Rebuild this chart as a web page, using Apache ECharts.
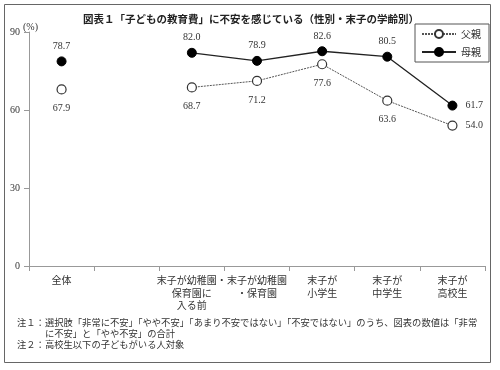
<!DOCTYPE html>
<html><head><meta charset="utf-8">
<script src="https://cdn.jsdelivr.net/npm/echarts@6/dist/echarts.min.js"></script>
<style>html,body{margin:0;padding:0;background:#fff}#c{width:500px;height:370px}</style>
</head><body><div id="c"></div>
<script>
const categories = ['全体', '', '末子が幼稚園・\n保育園に\n入る前', '末子が幼稚園\n・保育園', '末子が\n小学生', '末子が\n中学生', '末子が\n高校生'];
const fatherValues = [67.9, null, 68.7, 71.2, 77.6, 63.6, 54.0];
const motherValues = [78.7, null, 82.0, 78.9, 82.6, 80.5, 61.7];
const yTicks = [0, 30, 60, 90];
const unitText = '(%)';
const titleText = '図表１「子どもの教育費」に不安を感じている（性別・末子の学齢別）';
const notes = [
  '注１：選択肢「非常に不安」「やや不安」「あまり不安ではない」「不安ではない」のうち、図表の数値は「非常',
  '　　　に不安」と「やや不安」の合計',
  '注２：高校生以下の子どもがいる人対象'
];
const serif = '"Liberation Serif","DejaVu Serif","Noto Sans CJK JP",serif';
const jp = '"Noto Sans CJK JP",sans-serif';
const chart = echarts.init(document.getElementById('c'));
const lastIdx = categories.length - 1;
function labelFor(pos, dist) {
  return {
    show: true, position: pos, distance: dist, color: '#333', fontSize: 10, fontFamily: serif,
    formatter: p => p.value == null ? '' : p.value.toFixed(1)
  };
}
function mkData(vals) {
  return vals.map((v, i) => i === lastIdx ? { value: v, label: { position: 'right', distance: 8 } } : v);
}
chart.setOption({
  animation: false,
  title: {
    text: titleText, left: 246, top: 9, textAlign: 'center',
    textStyle: { fontSize: 10.5, fontWeight: 'bold', fontFamily: jp, color: '#222' }
  },
  legend: {
    orient: 'vertical', right: 11, top: 24, itemGap: 8, itemWidth: 34, itemHeight: 10,
    padding: [5, 8, 5, 6], borderColor: '#555', borderWidth: 1,
    textStyle: { fontSize: 10, fontFamily: jp, color: '#333' },
    data: ['父親', '母親']
  },
  grid: { left: 29, right: 15, top: 32, bottom: 104 },
  xAxis: {
    type: 'category', data: categories, boundaryGap: true,
    axisLine: { lineStyle: { color: '#999' } },
    axisTick: { show: true, alignWithLabel: false, lineStyle: { color: '#999' } },
    axisLabel: { interval: 0, fontSize: 10, fontFamily: jp, color: '#333', lineHeight: 12.5, margin: 8 }
  },
  yAxis: {
    type: 'value', min: 0, max: 90, interval: 30,
    axisLine: { show: true, lineStyle: { color: '#999' } },
    axisTick: { show: true, lineStyle: { color: '#999' } },
    splitLine: { show: false },
    axisLabel: { fontSize: 10, fontFamily: serif, color: '#333', margin: 9,
      formatter: v => yTicks.includes(v) ? String(v) : '' }
  },
  series: [
    {
      name: '父親', type: 'line', data: mkData(fatherValues), connectNulls: false,
      symbol: 'circle', symbolSize: 9,
      itemStyle: { color: '#fff', borderColor: '#333', borderWidth: 1.2 },
      lineStyle: { color: '#555', width: 1, type: [2, 1] },
      label: labelFor('bottom', 9), z: 2
    },
    {
      name: '母親', type: 'line', data: mkData(motherValues), connectNulls: false,
      symbol: 'circle', symbolSize: 9,
      itemStyle: { color: '#000', borderColor: '#000', borderWidth: 1 },
      lineStyle: { color: '#222', width: 1.3 },
      label: labelFor('top', 5), z: 3
    }
  ],
  graphic: [
    { type: 'rect', shape: { x: 4.5, y: 4.5, width: 486, height: 358 }, style: { fill: 'none', stroke: '#666', lineWidth: 1 }, silent: true },
    { type: 'text', left: 23, top: 22, style: { text: unitText, fontSize: 10, fontFamily: serif, fill: '#333' } },
    { type: 'text', left: 17, top: 317, style: { text: notes.join('\n'), fontSize: 9.3, lineHeight: 11, fontFamily: jp, fill: '#333' } }
  ]
});
</script></body></html>
